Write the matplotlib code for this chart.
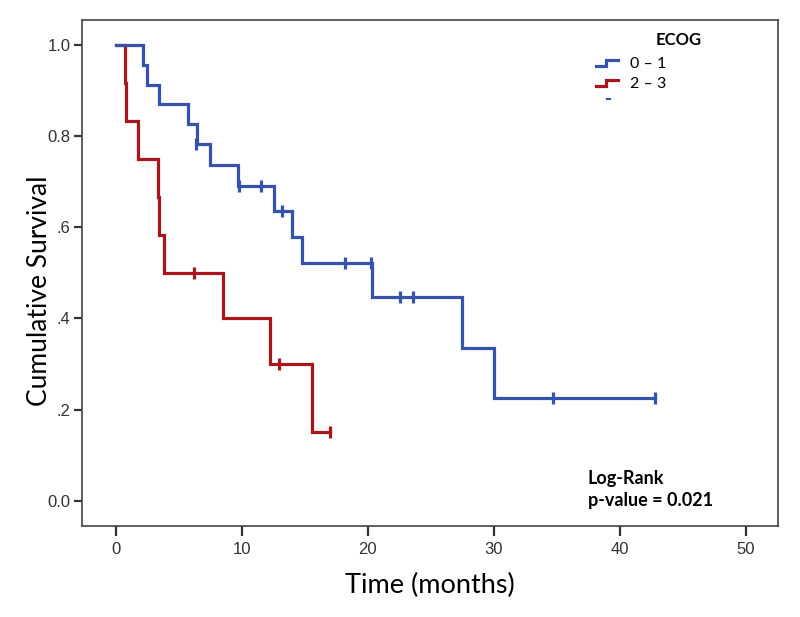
import matplotlib
matplotlib.use("Agg")
import matplotlib.pyplot as plt
from matplotlib.lines import Line2D
from matplotlib.legend_handler import HandlerBase

# ---- data ----
blue_label = "0 \u2013 1"
red_label = "2 \u2013 3"
blue_times = [0, 2.14, 2.46, 3.44, 5.76, 6.43, 7.48, 9.73, 12.59, 13.97, 14.81, 20.37, 27.5, 30.05]
blue_surv = [1.0, 0.957, 0.913, 0.870, 0.826, 0.783, 0.737, 0.691, 0.636, 0.578, 0.521, 0.448, 0.334, 0.225]
blue_end = 42.8
blue_cens_t = [6.35, 9.81, 11.53, 13.17, 18.2, 20.26, 22.56, 23.57, 34.73, 42.8]
blue_cens_s = [0.783, 0.691, 0.691, 0.636, 0.521, 0.521, 0.448, 0.448, 0.225, 0.225]

red_times = [0, 0.74, 0.82, 1.75, 3.38, 3.46, 3.86, 8.49, 12.25, 15.6]
red_surv = [1.0, 0.917, 0.833, 0.750, 0.667, 0.583, 0.5, 0.4, 0.3, 0.15]
red_end = 17.0
red_cens_t = [6.24, 12.96, 17.0]
red_cens_s = [0.5, 0.3, 0.15]

x_ticks = [0, 10, 20, 30, 40, 50]
y_ticks = [0.0, 0.2, 0.4, 0.6, 0.8, 1.0]
y_ticklabels = ["0.0", ".2", ".4", ".6", "0.8", "1.0"]

BLUE = "#3553ad"
RED = "#a8161c"
TEXTFONT = ["Lato", "DejaVu Sans"]
TICKFONT = ["Liberation Sans Narrow", "Liberation Sans", "DejaVu Sans"]

fig = plt.figure(figsize=(8, 6.17), dpi=100)
ax = fig.add_axes([0.1021, 0.148, 0.870, 0.8196])

def step_xy(times, surv, end):
    xs = list(times) + [end]
    ys = list(surv) + [surv[-1]]
    return xs, ys

bx, by = step_xy(blue_times, blue_surv, blue_end)
rx, ry = step_xy(red_times, red_surv, red_end)
ax.step(rx, ry, where="post", color=RED, lw=2.3, solid_joinstyle="miter")
ax.step(bx, by, where="post", color=BLUE, lw=2.3, solid_joinstyle="miter")
ax.plot(red_cens_t, red_cens_s, ls="none", marker="|", ms=8, mew=2.3, color=RED)
ax.plot(blue_cens_t, blue_cens_s, ls="none", marker="|", ms=8, mew=2.3, color=BLUE)

ax.set_xlim(-2.70, 52.54)
ax.set_ylim(-0.0549, 1.0549)
ax.set_xticks(x_ticks)
ax.set_xticklabels([str(t) for t in x_ticks], family=TICKFONT, fontsize=12, color="#333333")
ax.set_yticks(y_ticks)
ax.set_yticklabels(y_ticklabels, family=TICKFONT, fontsize=12, color="#333333")
ax.tick_params(axis="x", direction="out", length=7, width=1.6, color="#333333", pad=5)
ax.tick_params(axis="y", direction="out", length=6, width=1.6, color="#333333", pad=2)
for s in ax.spines.values():
    s.set_color("#444444")
    s.set_linewidth(1.2)

ax.set_xlabel("Time (months)", family=TEXTFONT, fontsize=19.5, labelpad=11)
ax.set_ylabel("Cumulative Survival", family=TEXTFONT, fontsize=19)
ax.yaxis.set_label_coords(-0.0427, 0.464)

ax.text(0.727, 0.11, "Log-Rank\np-value = 0.021", transform=ax.transAxes,
        family=TEXTFONT, fontsize=13, fontweight="bold", va="top", ha="left",
        linespacing=1.35)


class StepHandler(HandlerBase):
    def create_artists(self, legend, orig_handle, xdescent, ydescent, width, height, fontsize, trans):
        x0, x1 = -xdescent, -xdescent + width
        xm = x0 + width * 0.45
        ylo = -ydescent + height * 0.15
        yhi = -ydescent + height * 0.7
        ln = Line2D([x0, xm, xm, x1], [ylo, ylo, yhi, yhi], color=orig_handle.get_color(),
                    lw=2.3, solid_joinstyle="miter", transform=trans)
        return [ln]


class DotHandler(HandlerBase):
    def create_artists(self, legend, orig_handle, xdescent, ydescent, width, height, fontsize, trans):
        xm = -xdescent + width * 0.55
        ym = -ydescent + height * 0.9
        ln = Line2D([xm - 1, xm + 1], [ym, ym], color=orig_handle.get_color(), lw=1.5, transform=trans)
        return [ln]


hb = Line2D([], [], color=BLUE)
hr = Line2D([], [], color=RED)
hd = Line2D([], [], color=BLUE, lw=0.5)
leg = ax.legend([hb, hr, hd], [blue_label, red_label, ""],
                handler_map={hb: StepHandler(), hr: StepHandler(), hd: DotHandler()},
                loc="upper left", bbox_to_anchor=(0.739, 0.928), frameon=False,
                prop={"family": TEXTFONT, "size": 11.5}, handlelength=1.4,
                handletextpad=0.75, labelspacing=0.4, borderaxespad=0, borderpad=0)
ax.text(0.825, 0.976, "ECOG", transform=ax.transAxes, family=TEXTFONT, fontsize=12,
        fontweight="bold", va="top", ha="left")

fig.savefig("out.png", dpi=100)
